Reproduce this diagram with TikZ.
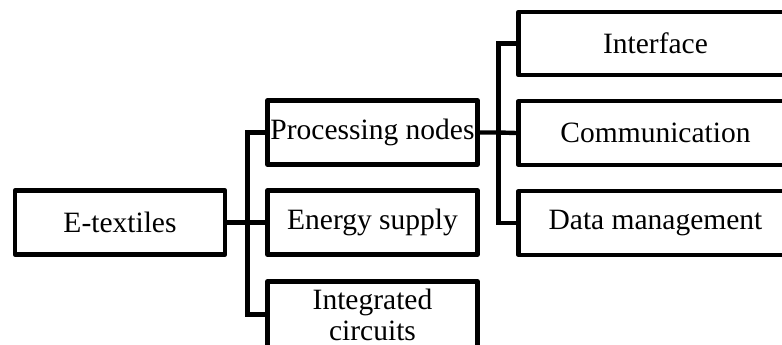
\documentclass[tikz,border=0pt]{standalone}
\usepackage{fontspec}
\setmainfont{Liberation Serif}
\tikzset{
  box/.style={draw=black, line width=4.4pt, line join=round, fill=white,
    minimum width=210pt, minimum height=64pt, inner sep=0pt, align=center,
    font=\fontsize{29.5}{31}\selectfont},
  widebox/.style={box, minimum width=274pt, minimum height=63.5pt},
  conn/.style={draw=black, line width=4.4pt, line join=miter}
}
\begin{document}
\begin{tikzpicture}[x=1pt,y=-1pt]
\useasboundingbox (0,0) rectangle (782,345);
\clip (0,0) rectangle (782,345);
\node[box] (et) at (120,222.5) {E-textiles};
\node[box] (pn) at (372.5,132.5) {Processing nodes};
\node[box] (es) at (372.5,222.5) {Energy supply};
\node[box, minimum height=66pt] (ic) at (372.5,314.5) {Integrated\\circuits};
\node[widebox] (in) at (655.5,43.5) {Interface};
\node[widebox] (co) at (655.5,133) {Communication};
\node[widebox] (dm) at (655.5,223) {Data management};
\coordinate (j1) at (247.5,222.5);
\coordinate (j2) at (498.5,132.5);
\draw[conn] (et.east) -- (j1) -- (es.west);
\draw[conn] (pn.west) -| (j1) |- (ic.west);
\draw[conn] (pn.east) -- (j2) -- (co.west);
\draw[conn] (in.west) -| (j2) |- (dm.west);
\end{tikzpicture}
\end{document}
